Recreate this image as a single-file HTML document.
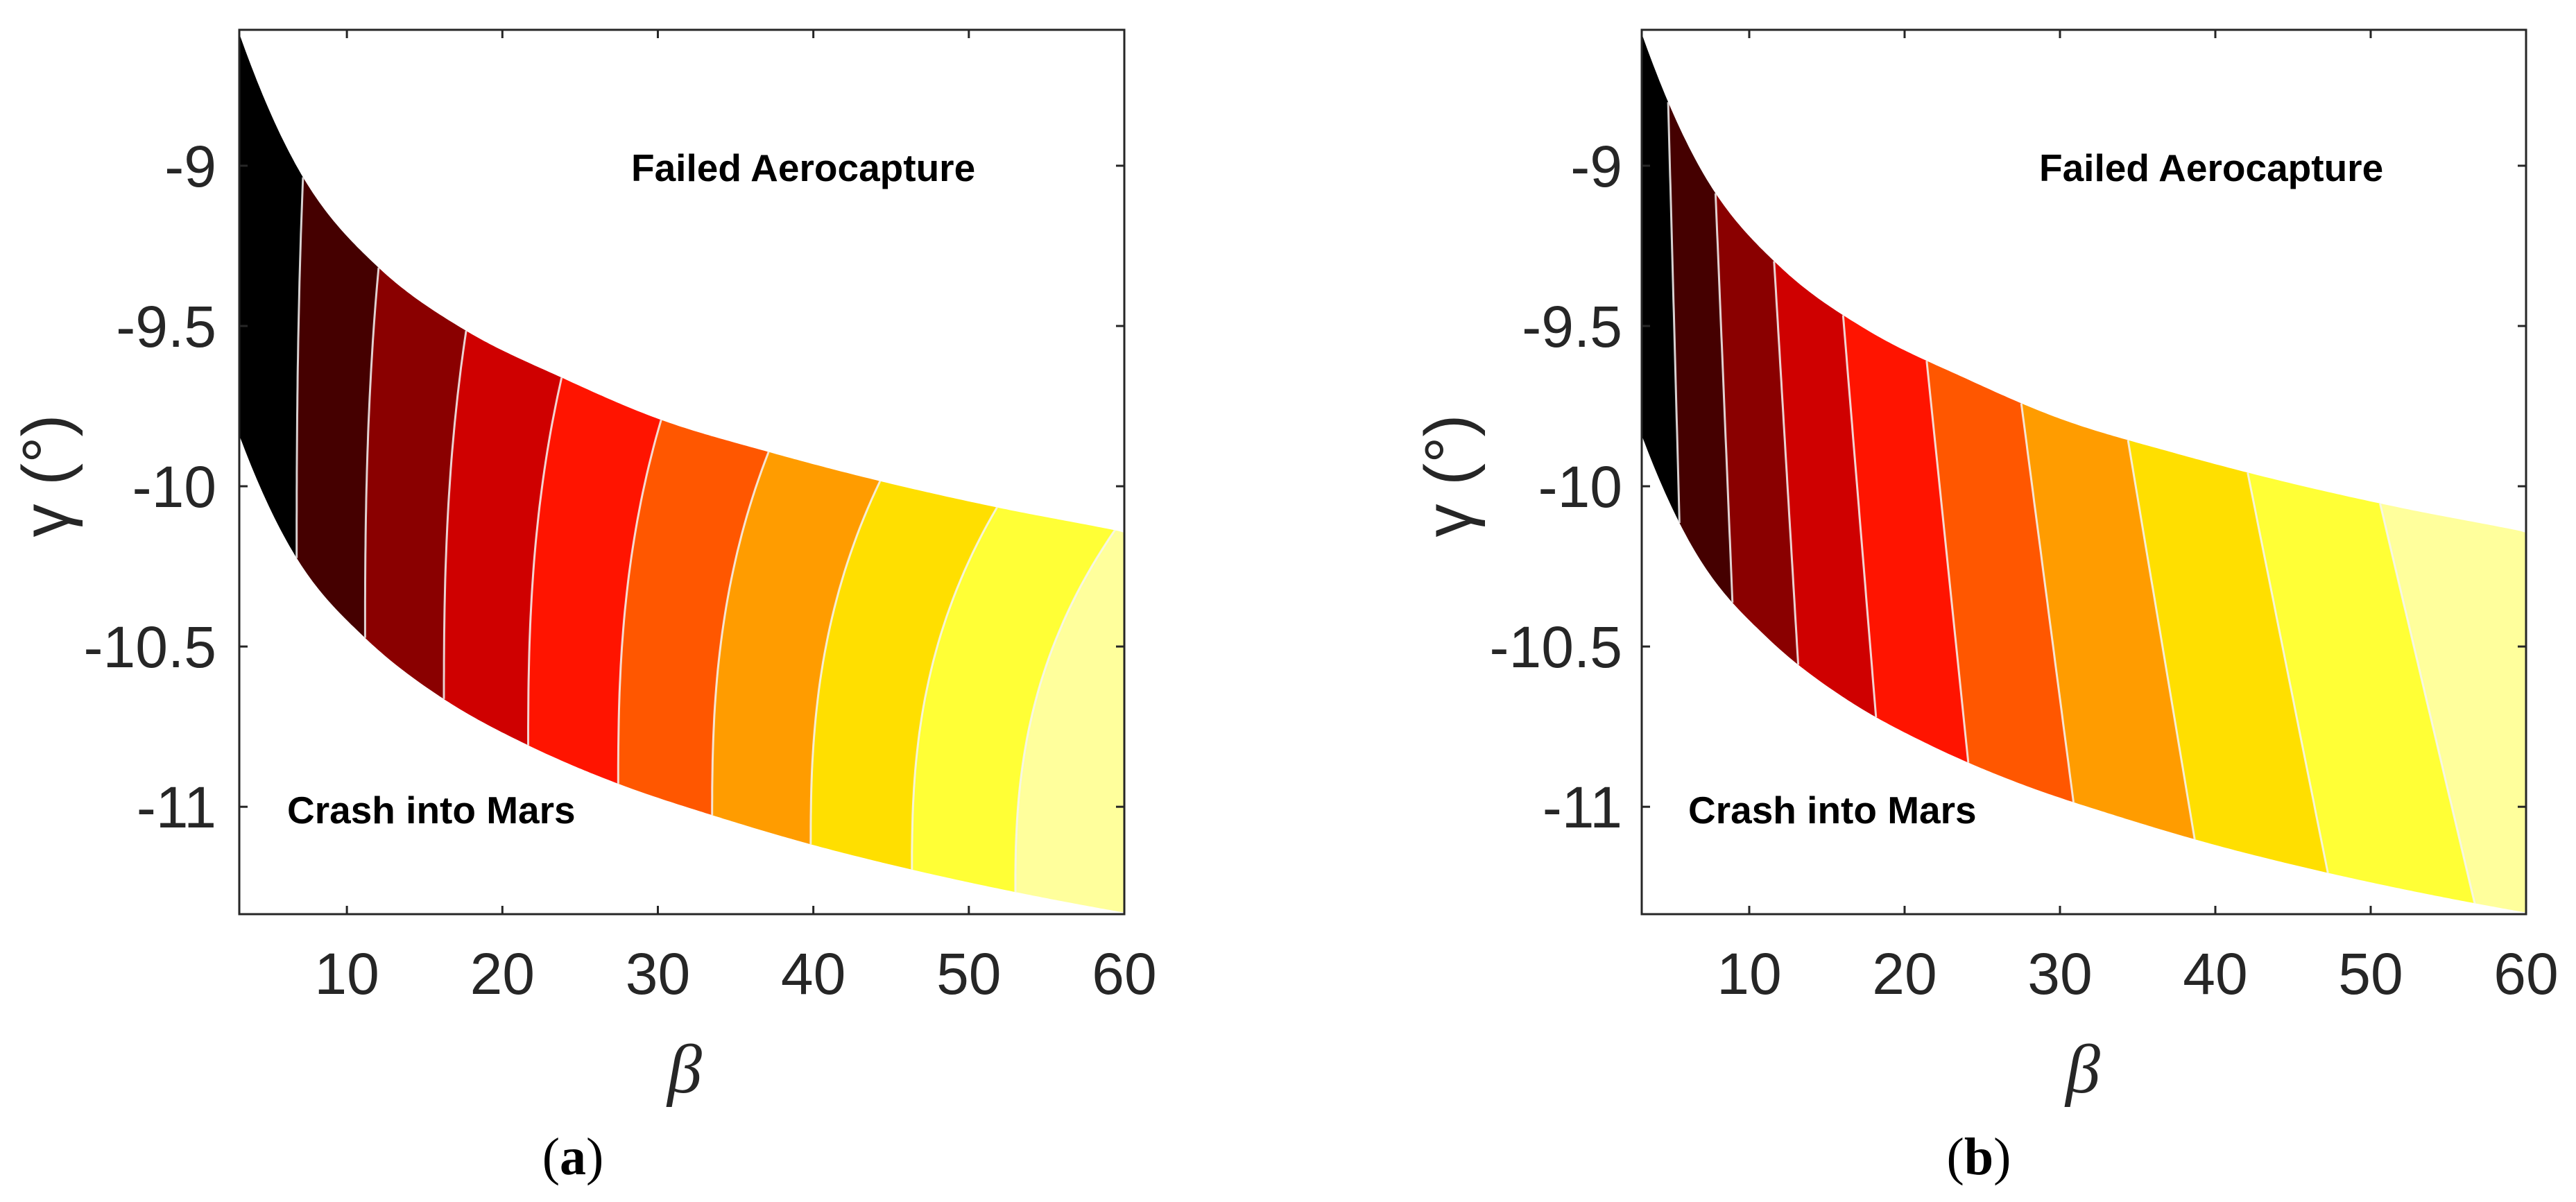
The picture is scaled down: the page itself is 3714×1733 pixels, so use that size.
<!DOCTYPE html>
<html><head><meta charset="utf-8"><style>
html,body{margin:0;padding:0;background:#fff;}
svg{display:block;}
.tick{font-family:"Liberation Sans",Arial,sans-serif;font-size:84px;fill:#262626;}
.ann{font-family:"Liberation Sans",Arial,sans-serif;font-size:55px;font-weight:bold;fill:#000;}
.lab{font-family:"Liberation Serif",serif;font-style:italic;fill:#262626;}
.cap{font-family:"Liberation Serif",serif;font-size:76px;fill:#000;}
</style></head><body>
<svg id="fig" width="3714" height="1733" viewBox="0 0 3714 1733" xmlns="http://www.w3.org/2000/svg"></svg>
<script>
// Axis ranges
const xMin = 3.08, xMax = 60, yMin = -11.335, yMax = -8.576;
const xTicks = [10, 20, 30, 40, 50, 60];
const xTickLabels = ["10", "20", "30", "40", "50", "60"];
const yTicks = [-9, -9.5, -10, -10.5, -11];
const yTickLabels = ["-9", "-9.5", "-10", "-10.5", "-11"];
// Boundary curves (Failed aerocapture above, crash below)
const upperBeta = [3.08, 7.18, 12.04, 17.67, 23.81, 30.21, 37.12, 44.29, 51.81, 59.39, 60];
const upperGamma = [-8.588, -9.036, -9.318, -9.515, -9.661, -9.793, -9.893, -9.984, -10.066, -10.137, -10.145];
const lowerBeta = [3.08, 6.77, 11.17, 16.24, 21.66, 27.45, 33.49, 39.83, 46.34, 52.99, 60];
const lowerGamma = [-9.841, -10.224, -10.473, -10.664, -10.808, -10.928, -11.026, -11.117, -11.196, -11.266, -11.330];
// Contour levels: beta at lower boundary and upper boundary
const contourBottomA = [6.77, 11.17, 16.24, 21.66, 27.45, 33.49, 39.83, 46.34, 52.99];
const contourTopA = [7.18, 12.04, 17.67, 23.81, 30.21, 37.12, 44.29, 51.81, 59.39];
const contourBottomB = [5.51, 8.92, 13.15, 18.16, 24.1, 30.87, 38.67, 47.24, 56.69];
const contourTopB = [4.78, 7.83, 11.6, 16.04, 21.42, 27.51, 34.38, 42.08, 50.6];
const bandColors = ["#000000", "#450000", "#8a0000", "#cf0000", "#ff1400", "#ff5700", "#ff9c00", "#ffdf00", "#ffff36", "#ffff9c"];

const NS = "http://www.w3.org/2000/svg";
const svg = document.getElementById("fig");
function mk(tag, attrs, parent) {
  const e = document.createElementNS(NS, tag);
  for (const k in attrs) e.setAttribute(k, attrs[k]);
  (parent || svg).appendChild(e);
  return e;
}
// Hermite smooth interpolation with parabolic end slopes
function interp(xs, ys, x) {
  const n = xs.length;
  if (x <= xs[0]) return ys[0];
  if (x >= xs[n-1]) return ys[n-1];
  let i = 1;
  while (x > xs[i]) i++;
  const x0 = xs[i-1], x1 = xs[i], h = x1 - x0, t = (x - x0) / h;
  const inner = j => (ys[j+1] - ys[j-1]) / (xs[j+1] - xs[j-1]);
  const slope = j => {
    if (j === 0) return 2 * (ys[1] - ys[0]) / (xs[1] - xs[0]) - inner(1);
    if (j === n-1) return 2 * (ys[n-1] - ys[n-2]) / (xs[n-1] - xs[n-2]) - inner(n-2);
    return inner(j);
  };
  const m0 = slope(i-1) * h, m1 = slope(i) * h;
  const t2 = t*t, t3 = t2*t;
  return (2*t3 - 3*t2 + 1) * ys[i-1] + (t3 - 2*t2 + t) * m0 + (-2*t3 + 3*t2) * ys[i] + (t3 - t2) * m1;
}

function drawPanel(cfg) {
  const L = cfg.left, R = cfg.right, T = 43, B = 1318;
  const sx = v => L + (v - xMin) / (xMax - xMin) * (R - L);
  const sy = v => T + (yMax - v) / (yMax - yMin) * (B - T);
  const g = mk("g", {});
  
  
  const cid = "clip-" + cfg.name;
  const defs = mk("defs", {}, g);
  const cp = mk("clipPath", { id: cid }, defs);
  let pts = [];
  const S = 300;
  for (let i = 0; i <= S; i++) { const b = xMin + (xMax - xMin) * i / S; pts.push(sx(b).toFixed(1) + "," + sy(interp(upperBeta, upperGamma, b)).toFixed(1)); }
  for (let i = S; i >= 0; i--) { const b = xMin + (xMax - xMin) * i / S; pts.push(sx(b).toFixed(1) + "," + sy(interp(lowerBeta, lowerGamma, b)).toFixed(1)); }
  mk("polygon", { points: pts.join(" ") }, cp);
  const cg = mk("g", { "clip-path": "url(#" + cid + ")" }, g);
  const N = 40;
  function linePts(k) {
    const xb = cfg.bottom[k], xt = cfg.top[k];
    const yb = interp(lowerBeta, lowerGamma, xb), yt = interp(upperBeta, upperGamma, xt);
    const arr = [];
    arr.push([xb, yb - 1]);
    for (let i = 0; i <= N; i++) {
      const t = i / N;
      const f = cfg.curved ? Math.pow(t, 2.5) : t;
      arr.push([xb + (xt - xb) * f, yb + (yt - yb) * t]);
    }
    arr.push([xt + (cfg.curved ? 0 : (xt - xb) * 0.5), yt + 0.8]);
    return arr;
  }
  const lines = cfg.bottom.map((_, k) => linePts(k));
  for (let b = 0; b < bandColors.length; b++) {
    let left = b === 0 ? [[xMin - 5, yMin - 1], [xMin - 5, yMax + 1]] : lines[b - 1];
    let right = b === bandColors.length - 1 ? [[xMax + 5, yMin - 1], [xMax + 5, yMax + 1]] : lines[b];
    const p = left.concat(right.slice().reverse()).map(q => sx(q[0]).toFixed(1) + "," + sy(q[1]).toFixed(1)).join(" ");
    const poly = mk("polygon", { points: p, fill: bandColors[b] }, cg);
    
    
  }
  lines.forEach((ln, k) => {
    const d = ln.slice(1, -1).map((q, i) => (i ? "L" : "M") + sx(q[0]).toFixed(1) + "," + sy(q[1]).toFixed(1)).join(" ");
    const pth = mk("path", { d: d, fill: "none", stroke: "#f4f4f4", "stroke-width": 3, "stroke-opacity": 0.85 }, cg);
    
    
  });
  const box = mk("rect", { x: L, y: T, width: R - L, height: B - T, fill: "none", stroke: "#262626", "stroke-width": 3 }, g);
  
  
  xTicks.forEach((v, i) => {
    const x = sx(v);
    mk("line", { x1: x, y1: B, x2: x, y2: B - 12, stroke: "#262626", "stroke-width": 3 }, g);
    mk("line", { x1: x, y1: T, x2: x, y2: T + 12, stroke: "#262626", "stroke-width": 3 }, g);
    const t = mk("text", { x: x, y: 1433, "text-anchor": "middle", class: "tick" }, g);
    t.textContent = xTickLabels[i];
    
    
  });
  yTicks.forEach((v, i) => {
    const y = sy(v);
    mk("line", { x1: L, y1: y, x2: L + 12, y2: y, stroke: "#262626", "stroke-width": 3 }, g);
    mk("line", { x1: R, y1: y, x2: R - 12, y2: y, stroke: "#262626", "stroke-width": 3 }, g);
    const t = mk("text", { x: cfg.yLabelRight, y: y + 30, "text-anchor": "end", class: "tick" }, g);
    t.textContent = yTickLabels[i];
    
    
  });
  const yl = mk("text", { x: 0, y: 0, "text-anchor": "middle", class: "lab", "font-size": 96, transform: "translate(" + (cfg.gammaX + 30) + ",686) rotate(-90)", style: "font-style:normal;font-family:'Liberation Sans',sans-serif" }, g);
  yl.textContent = "γ (°)";
  
  
  const xl = mk("text", { x: cfg.betaX, y: 1575, "text-anchor": "middle", class: "lab", "font-size": 100 }, g);
  xl.textContent = "β";
  
  
  const a1 = mk("text", { x: cfg.failX, y: 261, class: "ann" }, g);
  a1.textContent = "Failed Aerocapture";
  
  
  const a2 = mk("text", { x: cfg.crashX, y: 1187, class: "ann" }, g);
  a2.textContent = "Crash into Mars";
  
  
  const cap = mk("text", { x: cfg.capX, y: 1693, "text-anchor": "middle", class: "cap" }, g);
  cap.innerHTML = '(<tspan font-weight="bold">' + cfg.letter + '</tspan>)';
  
  
}

drawPanel({ name: "panel-a", left: 345, right: 1621, bottom: contourBottomA, top: contourTopA, curved: true,
  yLabelRight: 312, gammaX: 69, betaX: 987, failX: 910, crashX: 414, capX: 826, letter: "a" });
drawPanel({ name: "panel-b", left: 2367, right: 3642, bottom: contourBottomB, top: contourTopB, curved: false,
  yLabelRight: 2339, gammaX: 2091, betaX: 3003, failX: 2940, crashX: 2434, capX: 2853, letter: "b" });
</script>
</body></html>
